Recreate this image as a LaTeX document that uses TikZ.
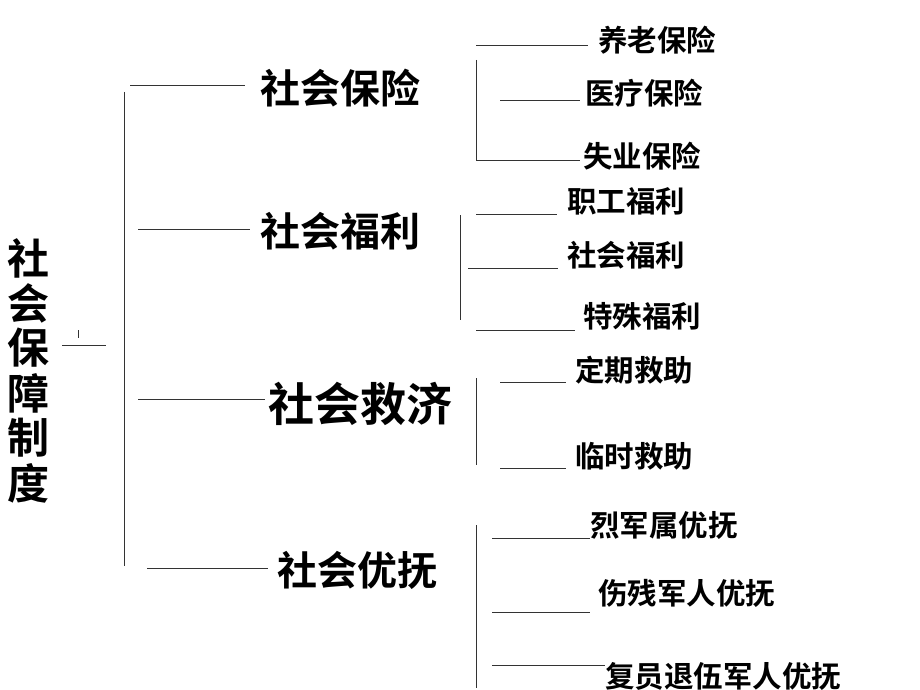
\documentclass[tikz,border=0pt]{standalone}
\usepackage{fontspec}
\newfontfamily\cjk{Noto Sans CJK SC}[BoldFont={Noto Sans CJK SC Bold}]
\begin{document}
\begin{tikzpicture}[x=1pt,y=-1pt,
  ln/.style={draw=black!80,line width=0.7pt},
  big/.style={font=\cjk\bfseries\fontsize{40}{42}\selectfont,anchor=west,inner sep=0},
  sub/.style={font=\cjk\bfseries\fontsize{29.5}{31}\selectfont,anchor=west,inner sep=0},
  rt/.style={font=\cjk\bfseries\fontsize{42}{44}\selectfont,inner sep=0}]
\useasboundingbox (0,0) rectangle (920,690);
\node[rt] (root1) at (29,258) {社};
\node[rt] (root2) at (29,303) {会};
\node[rt] (root3) at (29,348) {保};
\node[rt] (root4) at (29,393) {障};
\node[rt] (root5) at (29,438) {制};
\node[rt] (root6) at (29,483) {度};
\coordinate (r1) at (62,345); \coordinate (r2) at (106,345);
\draw[ln] (r1)--(r2);
\coordinate (t1) at (78,330); \coordinate (t2) at (78,338); \draw[ln] (t1)--(t2);
\coordinate (v1) at (124,92); \coordinate (v2) at (124,566); \draw[ln] (v1)--(v2);
% main
\node[big] (a) at (260,88) {社会保险};
\coordinate (a0) at (130,85); \draw[ln] (a0)--(245,85);
\node[big] (b) at (260,231) {社会福利};
\coordinate (b0) at (138,229); \draw[ln] (b0)--(250,229);
\node[big,font=\cjk\bfseries\fontsize{46}{48}\selectfont] (c) at (268,404) {社会救济};
\coordinate (c0) at (138,399); \draw[ln] (c0)--(265,399);
\node[big] (d) at (277,570) {社会优抚};
\coordinate (d0) at (147,568); \draw[ln] (d0)--(268,568);
% group 1
\draw[ln] (476,60)--(476,160)--(580,160);
\draw[ln] (476,45)--(588,45); \draw[ln] (500,100)--(580,100);
\node[sub] (a1) at (598,40) {养老保险};
\node[sub] (a2) at (585,93) {医疗保险};
\node[sub] (a3) at (583,156) {失业保险};
% group 2
\draw[ln] (460,215)--(460,320);
\draw[ln] (476,214)--(557,214); \draw[ln] (468,268)--(558,268); \draw[ln] (476,330)--(575,330);
\node[sub] (b1) at (567,201) {职工福利};
\node[sub] (b2) at (567,255) {社会福利};
\node[sub] (b3) at (583,316) {特殊福利};
% group 3
\draw[ln] (476,378)--(476,465);
\draw[ln] (500,382)--(566,382); \draw[ln] (500,468)--(566,468);
\node[sub] (c1) at (575,370) {定期救助};
\node[sub] (c2) at (575,456) {临时救助};
% group 4
\draw[ln] (476,525)--(476,688);
\draw[ln] (492,538)--(590,538); \draw[ln] (492,612)--(590,612); \draw[ln] (492,665)--(605,665);
\node[sub] (d1) at (590,525) {烈军属优抚};
\node[sub] (d2) at (598,593) {伤残军人优抚};
\node[sub] (d3) at (605,676) {复员退伍军人优抚};
\end{tikzpicture}
\end{document}
